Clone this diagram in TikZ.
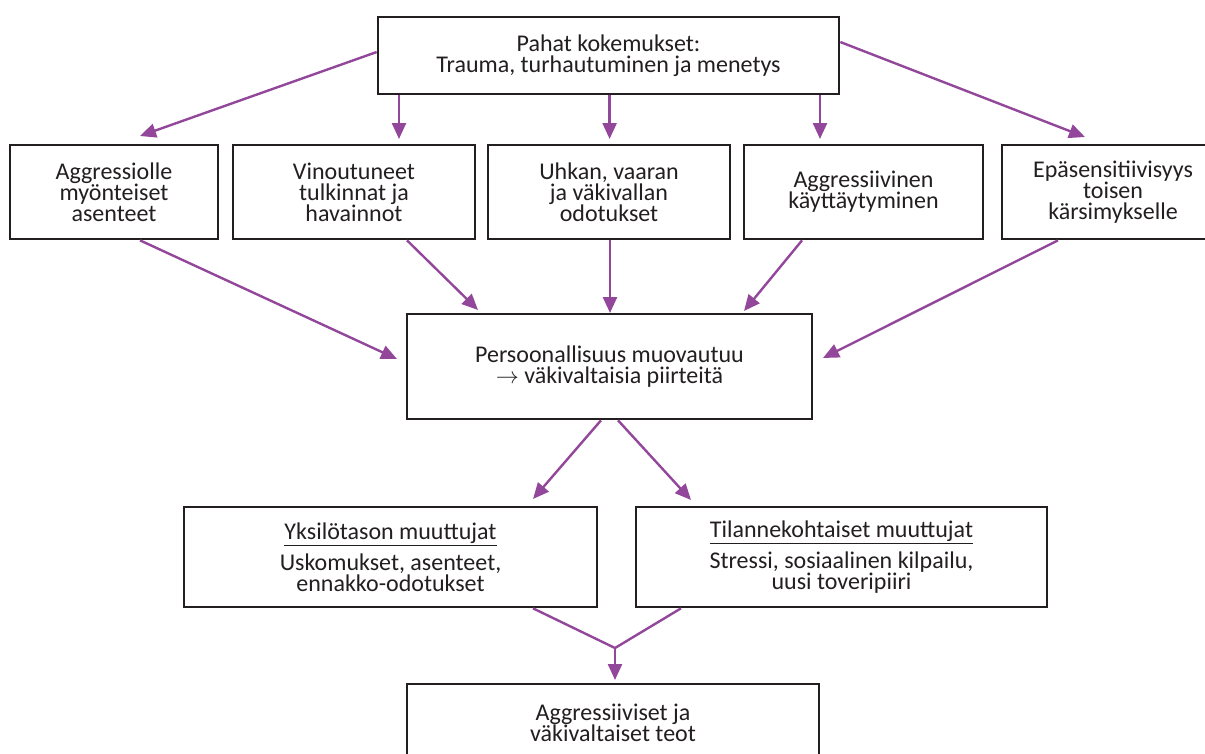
\documentclass[tikz,border=0pt]{standalone}
\usepackage{fontspec}
\setmainfont{Carlito}
\usetikzlibrary{arrows.meta}
\definecolor{arrowpurple}{RGB}{147,71,155}
\definecolor{inkblack}{RGB}{35,31,32}
\tikzset{
  box/.style={draw=inkblack, line width=2pt, fill=white, text=inkblack, align=center,
    inner sep=0pt, font=\fontsize{18}{15.75}\selectfont},
  conn/.style={draw=arrowpurple, line width=1.8pt, -{Triangle[length=12pt,width=10.5pt]}},
  plainconn/.style={draw=arrowpurple, line width=1.8pt, line join=miter},
}
\begin{document}
\begin{tikzpicture}[x=0.75pt,y=-0.75pt]
\useasboundingbox (0,0) rectangle (1205,753);
\clip (0,0) rectangle (1205,753);
\fill[white] (0,0) rectangle (1205,753);

% boxes
\node[box, minimum width=345.75pt, minimum height=57.75pt] (top) at (608.5,55.5)
  {Pahat kokemukset:\\Trauma, turhautuminen ja menetys};
\node[box, minimum width=156pt, minimum height=70.5pt] (b1) at (114,192)
  {Aggressiolle\\myönteiset\\asenteet};
\node[box, minimum width=181.5pt, minimum height=70.5pt] (b2) at (354,192)
  {Vinoutuneet\\tulkinnat ja\\havainnot};
\node[box, minimum width=181.5pt, minimum height=70.5pt] (b3) at (609,192)
  {Uhkan, vaaran\\ja väkivallan\\odotukset};
\node[box, minimum width=179.25pt, minimum height=70.5pt] (b4) at (863.5,192)
  {Aggressiivinen\\käyttäytyminen};
\node[box, minimum width=166.5pt, minimum height=70.5pt] (b5) at (1113,192)
  {Epäsensitiivisyys\\toisen\\kärsimykselle};
\node[box, minimum width=303.75pt, minimum height=78.75pt] (mid) at (609.5,366.5)
  {Persoonallisuus muovautuu\\$\rightarrow$ väkivaltaisia piirteitä};
\node[box, minimum width=309.75pt, minimum height=75pt] (y1) at (390.5,557)
  {\underline{Yksilötason muuttujat}\\[5pt]Uskomukset, asenteet,\\ennakko-odotukset};
\node[box, minimum width=308.25pt, minimum height=75pt] (t1) at (841.5,557)
  {\underline{Tilannekohtaiset muuttujat}\\[5pt]Stressi, sosiaalinen kilpailu,\\uusi toveripiiri};
\node[box, minimum width=309pt, minimum height=57.75pt] (fin) at (613,722.5)
  {Aggressiiviset ja\\väkivaltaiset teot};

% tip coordinates
\coordinate (tb1) at (140,136);
\coordinate (tb2) at (399,139);
\coordinate (tb3) at (609.6,139);
\coordinate (tb4) at (820,139);
\coordinate (tb5) at (1085,137);
\coordinate (tm1) at (397,359);
\coordinate (tm2) at (478,310);
\coordinate (tm3) at (610,313);
\coordinate (tm4) at (744,311);
\coordinate (tm5) at (823,358);
\coordinate (ty) at (533,499);
\coordinate (tt) at (691,500);
\coordinate (merge) at (615,648);
\coordinate (tf) at (615,680);

% top to row 2
\draw[conn] ([yshift=2.6pt]top.west) -- (tb1);
\draw[conn] (top.south -| tb2) -- (tb2);
\draw[conn] (top.south -| tb3) -- (tb3);
\draw[conn] (top.south -| tb4) -- (tb4);
\draw[conn] ([yshift=10.1pt]top.east) -- (tb5);

% row 2 to middle
\draw[conn] ([xshift=19.5pt]b1.south) -- (tm1);
\draw[conn] ([xshift=39.75pt]b2.south) -- (tm2);
\draw[conn] (b3.south -| tm3) -- (tm3);
\draw[conn] ([xshift=-46.1pt]b4.south) -- (tm4);
\draw[conn] ([xshift=-41.25pt]b5.south) -- (tm5);

% middle to variables
\draw[conn] ([xshift=-6.4pt]mid.south) -- (ty);
\draw[conn] ([xshift=6.4pt]mid.south) -- (tt);

% merge to final
\draw[plainconn] ([xshift=106.9pt]y1.south) -- (merge) -- ([xshift=-120.4pt]t1.south);
\draw[conn] (merge) -- (tf);
\end{tikzpicture}
\end{document}
